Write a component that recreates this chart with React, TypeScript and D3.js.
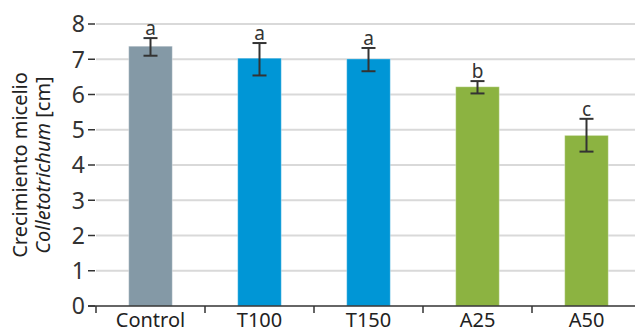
import React from 'react';
import * as d3 from 'd3';

// treatments and mean mycelium growth (cm) with error bars
const categories = ['Control', 'T100', 'T150', 'A25', 'A50'];
const means = [7.37, 7.03, 7.01, 6.22, 4.84];
const errUp = [0.23, 0.43, 0.31, 0.16, 0.47];
const errDown = [0.27, 0.49, 0.35, 0.19, 0.46];
const letters = ['a', 'a', 'a', 'b', 'c'];
const yTicks = [0, 1, 2, 3, 4, 5, 6, 7, 8];

const colorOf = (c: string) => {
  if (c === 'Control') return '#8499a6';
  if (c[0] === 'T') return '#0096d6';
  return '#8cb341';
};

const W = 635, H = 332;
const margin = { top: 24, left: 96, bottom: 26 };
const font = '"Noto Sans", sans-serif';

export default function App() {
  const y = d3.scaleLinear().domain([0, 8]).range([H - margin.bottom, margin.top]);
  const x = d3.scaleBand().domain(categories).range([margin.left, 641]).padding(0);
  const bw = x.bandwidth() * 0.4;

  return (
    <svg width={W} height={H} style={{ position: 'absolute', left: 0, top: 0 }} fontFamily={font}>
      {/* gridlines */}
      {yTicks.map(t => (
        <g key={t}>
          {t > 0 && <line x1={margin.left} x2={W} y1={y(t)} y2={y(t)} stroke="#d9d9d9" strokeWidth={2} />}
          <line x1={88} x2={95} y1={y(t)} y2={y(t)} stroke="#333" strokeWidth={1.5} />
          <text x={85} y={y(t)} dy="0.36em" textAnchor="end" fontSize={23} fill="#333">{t}</text>
        </g>
      ))}

      {/* bars */}
      {categories.map((c, i) => {
        const cx = x(c)! + x.bandwidth() / 2;
        const top = y(means[i] + errUp[i]);
        const bot = y(means[i] - errDown[i]);
        return (
          <g key={c}>
            <rect x={cx - bw / 2} y={y(means[i])} width={bw} height={y(0) - y(means[i])}
              fill={colorOf(c)} stroke="#ffffff" strokeOpacity={0.35} strokeWidth={1} />
            <line x1={cx} x2={cx} y1={top} y2={bot} stroke="#333" strokeWidth={2} />
            <line x1={cx - 7} x2={cx + 7} y1={top} y2={top} stroke="#333" strokeWidth={2} />
            <line x1={cx - 7} x2={cx + 7} y1={bot} y2={bot} stroke="#333" strokeWidth={2} />
            <text x={cx} y={top - 3} textAnchor="middle" fontSize={19} fill="#333">{letters[i]}</text>
            <text x={cx} y={327} textAnchor="middle" fontSize={20} fill="#222">{c}</text>
          </g>
        );
      })}

      {/* x axis */}
      <line x1={88} x2={W} y1={y(0)} y2={y(0)} stroke="#333" strokeWidth={1.5} />
      {categories.map(c => (
        <line key={c} x1={x(c)!} x2={x(c)!} y1={y(0)} y2={y(0) + 7} stroke="#333" strokeWidth={1.5} />
      ))}

      {/* y title */}
      <g transform={`translate(20,${(margin.top + H - margin.bottom) / 2}) rotate(-90)`} fill="#222" fontSize={20}>
        <text textAnchor="middle" dy="0.35em">Crecimiento micelio</text>
        <text textAnchor="middle" y={23} dy="0.35em">
          <tspan fontStyle="italic">Colletotrichum</tspan> [cm]
        </text>
      </g>
    </svg>
  );
}
